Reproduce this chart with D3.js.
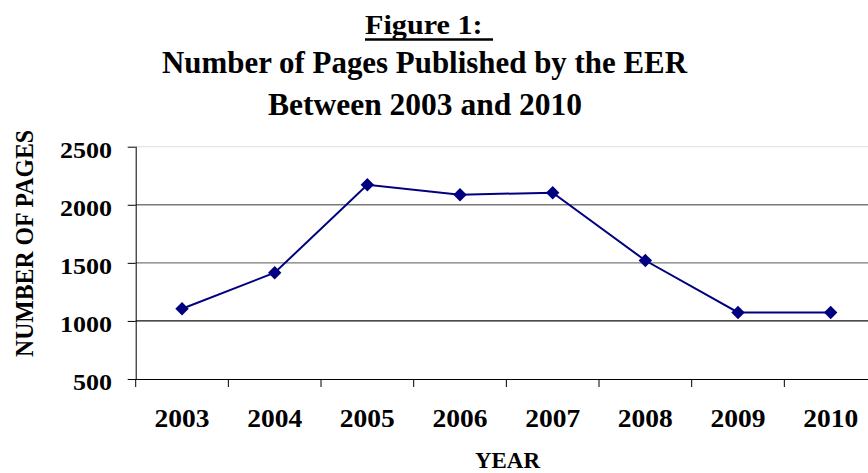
<!DOCTYPE html>
<html><head><meta charset="utf-8">
<script src="https://cdn.jsdelivr.net/npm/d3@7"></script>
<style>body{margin:0;background:#fff}svg{display:block}text{font-family:"Liberation Serif","Times New Roman",serif;font-weight:bold;fill:#000}</style>
</head><body>
<svg id="c" width="868" height="473"></svg>
<script>
const years = ["2003","2004","2005","2006","2007","2008","2009","2010"];
const pages = [1105, 1415, 2172, 2087, 2104, 1520, 1073, 1073];
const yTicks = [500, 1000, 1500, 2000, 2500];
const titleLines = ["Figure 1:", "Number of Pages Published by the EER", "Between 2003 and 2010"];

const svg = d3.select("#c");
const L = 135.7, R = 877, T = 146.7, B = 379;
const x = d3.scaleBand().domain(years).range([L, R]).padding(0);
const y = d3.scaleLinear().domain([500, 2500]).range([B, T]);

// gridlines
const gridColor = v => v === 2500 ? "#e4e4e4" : v === 1000 ? "#111" : "#7a7a7a";
svg.append("g").selectAll("line").data(yTicks.filter(v => v > 500)).join("line")
  .attr("x1", L).attr("x2", R).attr("y1", d => y(d)).attr("y2", d => y(d))
  .attr("stroke", gridColor).attr("stroke-width", d => d === 2000 ? 1.6 : 1.2);

// y axis
const yAxis = svg.append("g").attr("transform", `translate(${L},0)`)
  .call(d3.axisLeft(y).tickValues(yTicks).tickSize(8).tickPadding(0).tickFormat(d3.format("d")));
yAxis.select(".domain").attr("stroke", "#000").attr("d", `M0.5,${T}V${B}`);
yAxis.selectAll(".tick line").attr("stroke", "#000");
yAxis.selectAll(".tick text")
  .attr("font-size", 24).attr("font-family", "Liberation Serif").attr("font-weight", "bold").attr("fill", "#000")
  .attr("x", 112 - L).attr("dy", 0).attr("y", 10.3)
  .attr("textLength", d => 13 * String(d).length).attr("lengthAdjust", "spacingAndGlyphs");

// x axis
const xAxis = svg.append("g").attr("transform", `translate(0,${B})`)
  .call(d3.axisBottom(x).tickSize(0).tickPadding(0));
xAxis.select(".domain").attr("stroke", "#000").attr("d", `M${L},0.5H${R}`);
xAxis.selectAll(".tick line").remove();
xAxis.selectAll(".tick text")
  .attr("font-size", 26).attr("font-family", "Liberation Serif").attr("font-weight", "bold").attr("fill", "#000")
  .attr("dy", 0).attr("y", 427 - B).attr("x", -27.5).attr("text-anchor", "start")
  .attr("textLength", 55).attr("lengthAdjust", "spacingAndGlyphs");
// boundary ticks between categories
svg.append("g").selectAll("line").data(years).join("line")
  .attr("x1", d => x(d)).attr("x2", d => x(d)).attr("y1", B).attr("y2", B + 8)
  .attr("stroke", "#000");

// line
const cx = (i) => x(years[i]) + x.bandwidth() / 2;
const line = d3.line().x((d, i) => cx(i)).y(d => y(d));
svg.append("path").datum(pages).attr("d", line).attr("fill", "none").attr("stroke", "#000080").attr("stroke-width", 2);
svg.append("g").selectAll("path").data(pages).join("path")
  .attr("d", d3.symbol(d3.symbolSquare, 90)())
  .attr("transform", (d, i) => `translate(${cx(i)},${y(d)}) rotate(45)`)
  .attr("fill", "#000080");

// titles
svg.append("text").attr("x", 365).attr("y", 33.5).attr("font-size", 28)
  .attr("textLength", 117.6).attr("lengthAdjust", "spacingAndGlyphs").text(titleLines[0]);
svg.append("line").attr("x1", 365).attr("x2", 493).attr("y1", 39.5).attr("y2", 39.5)
  .attr("stroke", "#000").attr("stroke-width", 2.6);
svg.append("text").attr("x", 162).attr("y", 73).attr("font-size", 32)
  .attr("textLength", 525).attr("lengthAdjust", "spacingAndGlyphs").text(titleLines[1]);
svg.append("text").attr("x", 268).attr("y", 115).attr("font-size", 32)
  .attr("textLength", 314).attr("lengthAdjust", "spacingAndGlyphs").text(titleLines[2]);

// axis titles
svg.append("text").attr("x", 475).attr("y", 468).attr("font-size", 23)
  .attr("textLength", 65).attr("lengthAdjust", "spacingAndGlyphs").text("YEAR");
svg.append("text").attr("transform", "translate(32.5,243.5) rotate(-90)").attr("text-anchor", "middle")
  .attr("font-size", 26).attr("textLength", 227).attr("lengthAdjust", "spacingAndGlyphs").text("NUMBER OF PAGES");
</script>
</body></html>
